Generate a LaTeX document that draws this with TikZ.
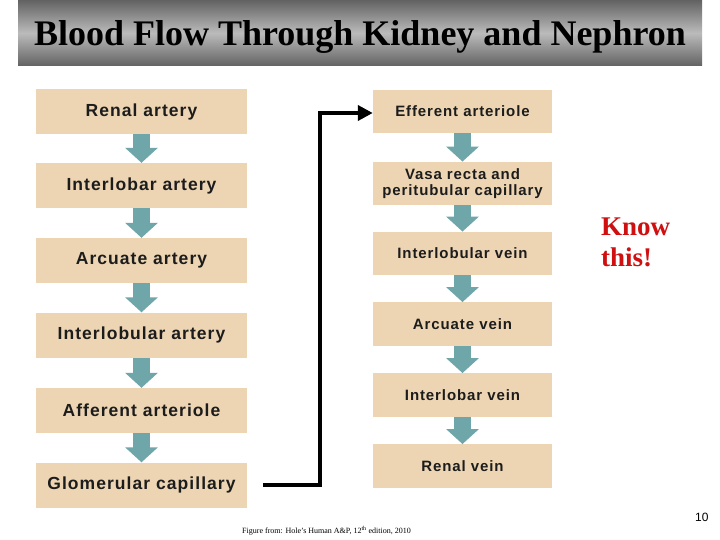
\documentclass[tikz,border=0pt]{standalone}
\usepackage{fontspec}
\setmainfont{Liberation Serif}
\setsansfont{Liberation Sans}
\usetikzlibrary{arrows.meta,positioning}
\definecolor{boxtan}{HTML}{EDD5B3}
\definecolor{flowteal}{HTML}{6FA6A9}
\definecolor{knowred}{HTML}{D01010}
\definecolor{textdark}{HTML}{1C1C1C}
\definecolor{bardark}{HTML}{626262}
\definecolor{barlight}{HTML}{BBBBBB}
\tikzset{
  flowbox/.style={fill=boxtan, inner sep=0pt, align=center, text=textdark},
  leftbox/.style={flowbox, minimum width=211pt, minimum height=45pt,
    font=\sffamily\bfseries\fontsize{17.5}{18}\selectfont\addfontfeature{LetterSpace=6}},
  rightbox/.style={flowbox, minimum width=179pt, minimum height=43.5pt,
    font=\sffamily\bfseries\fontsize{15}{16.5}\selectfont\addfontfeature{LetterSpace=6}},
  flowarrow/.style={draw=flowteal, line width=17pt,
    -{Triangle[width=32pt,length=15pt]}},
  linkline/.style={draw=black, line width=4pt,
    -{Triangle[width=15pt,length=15pt]}}
}
\begin{document}
\begin{tikzpicture}[x=1pt,y=-1pt]
\useasboundingbox (0,0) rectangle (720,540);
\fill[white] (0,0) rectangle (720,540);
% title bar
\shade[top color=bardark, bottom color=bardark, middle color=barlight] (18,0) rectangle (702,66);
\node[font=\bfseries\fontsize{36}{38}\selectfont, text=black] (title) at (360,37) {Blood Flow Through Kidney and Nephron};
% left column
\node[leftbox] (ra) at (141.5,111.5) {Renal artery};
\node[leftbox] (ila) at (141.5,185.5) {Interlobar artery};
\node[leftbox] (aa) at (141.5,260.5) {Arcuate artery};
\node[leftbox] (ilba) at (141.5,335) {Interlobular artery};
\node[leftbox] (afa) at (141.5,410.5) {Afferent arteriole};
\node[leftbox] (gc) at (141.5,485) {Glomerular capillary};
% right column
\node[rightbox] (efa) at (462.5,111.5) {Efferent arteriole};
\node[rightbox] (vr) at (462.5,183.5) {Vasa recta and\\peritubular capillary};
\node[rightbox] (ilbv) at (462.5,253.5) {Interlobular vein};
\node[rightbox] (av) at (462.5,324) {Arcuate vein};
\node[rightbox] (ilv) at (462.5,395) {Interlobar vein};
\node[rightbox] (rv) at (462.5,466) {Renal vein};
% teal arrows
\foreach \a/\b in {ra/ila, ila/aa, aa/ilba, ilba/afa, afa/gc, efa/vr, vr/ilbv, ilbv/av, av/ilv, ilv/rv}
  \draw[flowarrow] (\a.south) -- (\b.north);
% link from glomerular capillary to efferent arteriole
\coordinate (gcout) at ([xshift=16pt]gc.east);
\draw[linkline] (gcout) -| (320,113) -- (efa.west |- 0,113);
% side texts
\node[font=\bfseries\fontsize{27}{31}\selectfont, text=knowred, align=left, anchor=north west, inner sep=0pt] (know) at (601,218) {Know\\this!};
\node[font=\sffamily\fontsize{12}{12}\selectfont, anchor=east] (pagenum) at (712,517) {10};
\node[font=\fontsize{8}{8}\selectfont, anchor=west, inner sep=0pt] (src) at (242,531) {Figure from: Hole's Human A\&P, 12\textsuperscript{th} edition, 2010};
\end{tikzpicture}
\end{document}
